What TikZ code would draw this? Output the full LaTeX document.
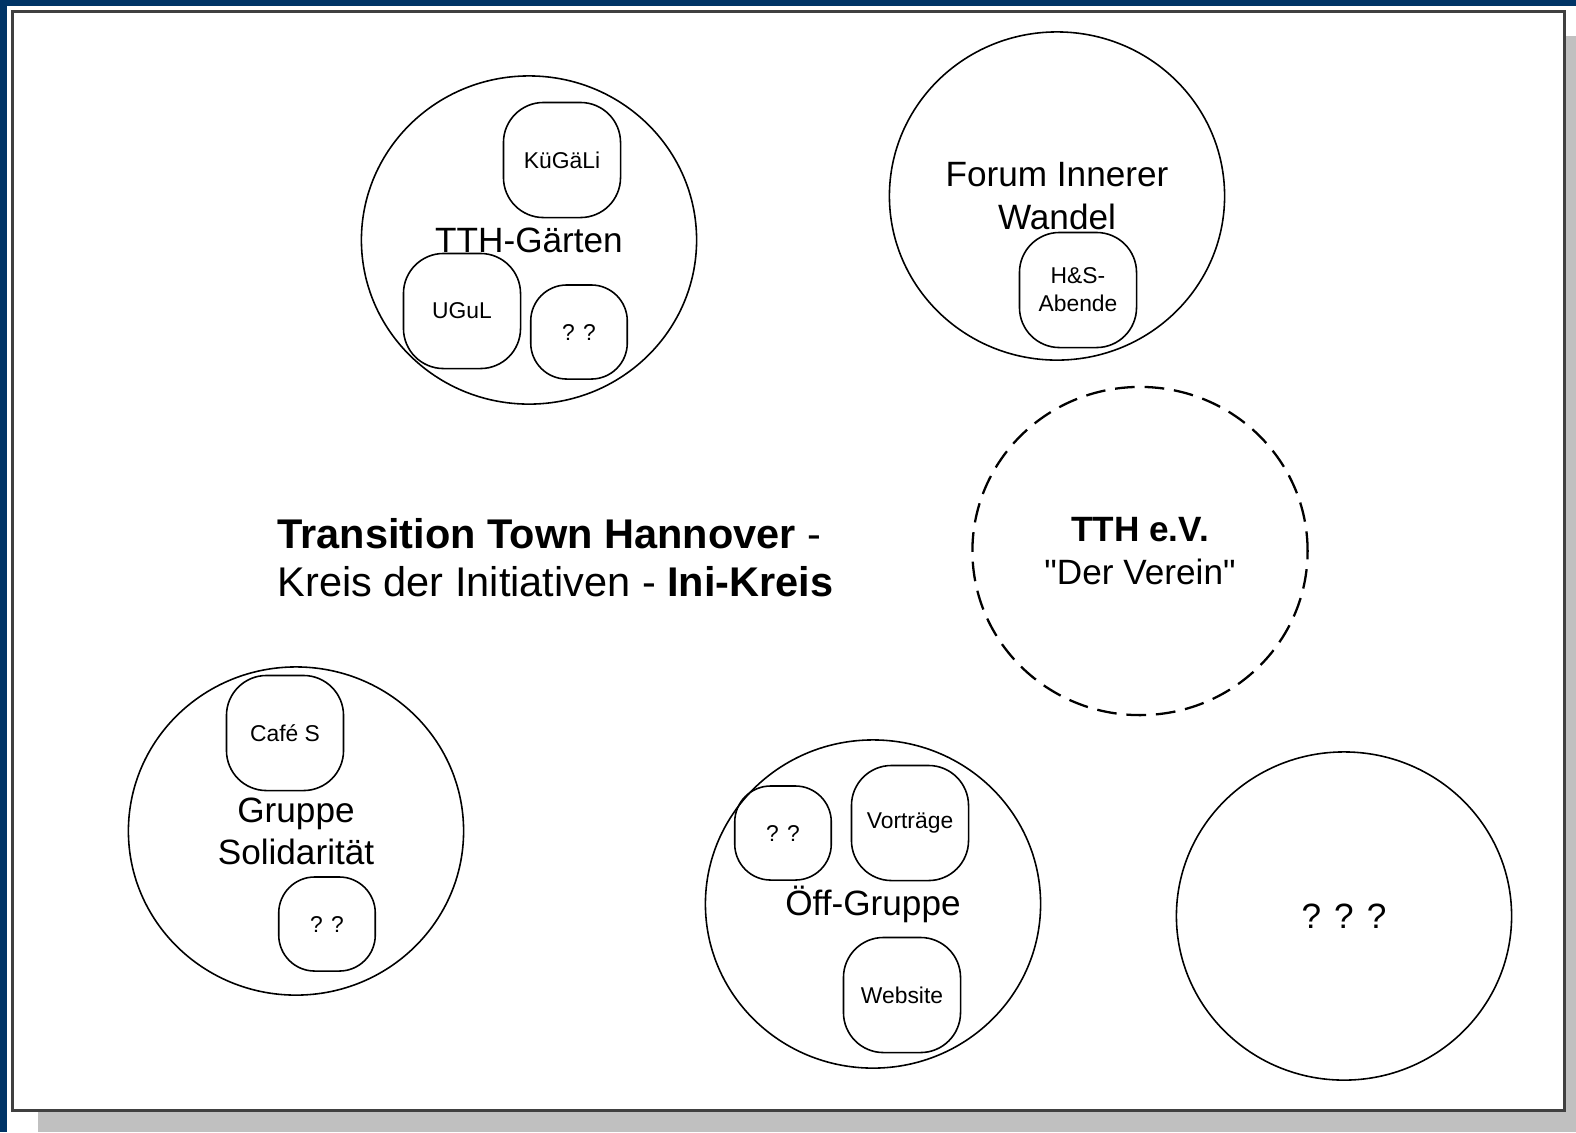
\documentclass[tikz,border=0pt]{standalone}
\usepackage{fontspec}
\setmainfont{Liberation Sans}
\usepackage{tikz}
\usetikzlibrary{shapes.geometric}

\definecolor{framenavy}{HTML}{003466}
\definecolor{shadowgray}{HTML}{C0C0C0}

\tikzset{
  group/.style={ellipse, draw, line width=0.45pt, inner sep=0pt,
    minimum width=3.35cm, minimum height=3.28cm, align=center,
    font=\fontsize{10}{12}\selectfont},
  verein/.style={group, dashed, line width=0.65pt, dash pattern=on 5.6pt off 2.8pt},
  ini/.style={rectangle, draw, line width=0.45pt, rounded corners=0.4cm,
    minimum width=1.17cm, minimum height=1.15cm, inner sep=0pt, align=center,
    font=\fontsize{6.5}{8}\selectfont},
  inismall/.style={ini, rounded corners=0.36cm, minimum width=0.965cm, minimum height=0.94cm}
}

\begin{document}
\begin{tikzpicture}[x=0.01cm, y=-0.01cm]
  \useasboundingbox (0,0) rectangle (1576,1132);

  % page frame
  \fill[framenavy] (0,0) rectangle (7,1132);
  \fill[framenavy] (0,0) rectangle (1576,6);
  \fill[shadowgray] (38,36) rectangle (1576,1132);
  \draw[draw=black!75, fill=white, line width=0.6pt] (12.5,11.5) rectangle (1564.5,1110.5);

  \node[group] (gaerten) at (529,240) {TTH-Gärten};
  \node[group] (forum) at (1057,196) {Forum Innerer\\Wandel};
  \node[verein] (verein) at (1140,551) {\textbf{TTH e.V.}\\\textquotedbl Der Verein\textquotedbl};
  \node[group] (soli) at (296,831) {Gruppe\\Solidarität};
  \node[group] (oeff) at (873,904) {Öff-Gruppe};
  \node[group] (unknown) at (1344,916) {? ? ?};

  \node[ini] (kuegali) at (562,160) {KüGäLi};
  \node[ini] (ugul) at (462,311) {UGuL};
  \node[inismall] (gq) at (579,332) {? ?};

  \node[ini] (hs) at (1078,290) {H\&S-\\Abende};

  \node[ini] (cafe) at (285,733) {Café S};
  \node[inismall] (sq) at (327,924) {? ?};

  \node[inismall] (oq) at (783,833) {? ?};
  \node[ini] (vortraege) at (910,823) {Vorträge};
  \node[ini] (website) at (902,995) {Website};

  \node[anchor=west, align=left, inner sep=0pt,
    font=\fontsize{11.8}{13.7}\selectfont] (title) at (277,558)
    {\textbf{Transition Town Hannover} -\\Kreis der Initiativen - \textbf{Ini-Kreis}};
\end{tikzpicture}
\end{document}
